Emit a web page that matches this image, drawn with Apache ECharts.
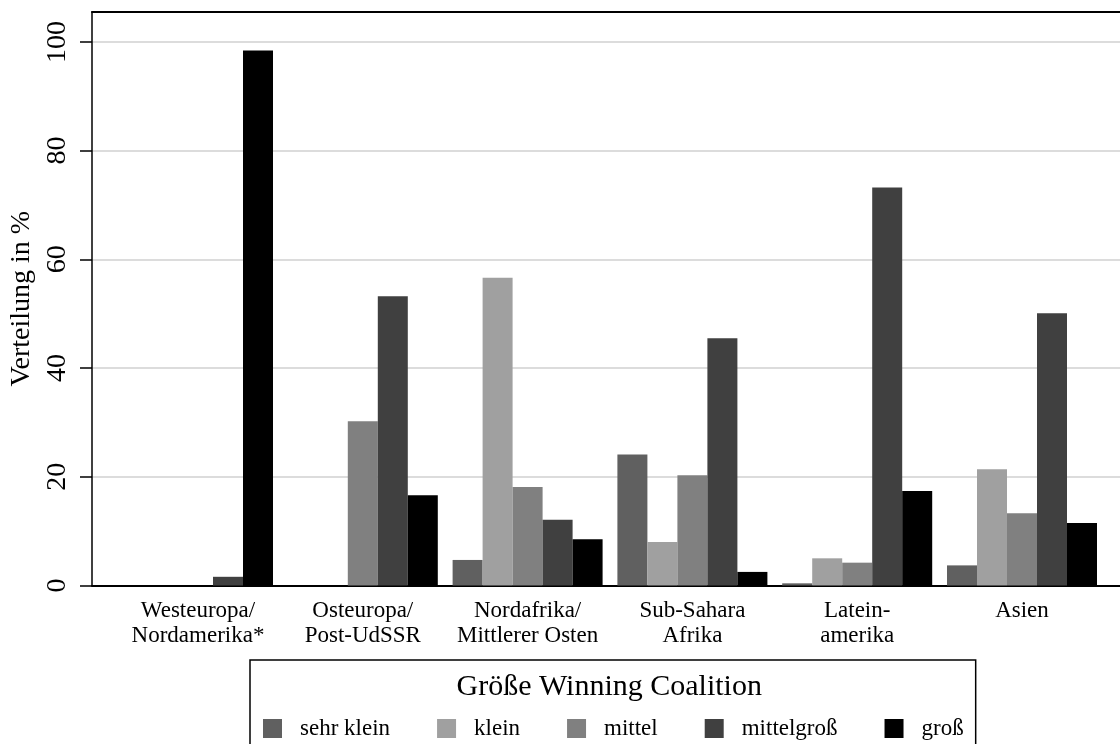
<!DOCTYPE html>
<html>
<head>
<meta charset="utf-8">
<script src="https://cdn.jsdelivr.net/npm/echarts@6/dist/echarts.min.js"></script>
<style>
html,body{margin:0;padding:0;background:#fff;}
#c{width:1120px;height:744px;}
</style>
</head>
<body>
<div id="c"></div>
<script>
const categories = ['Westeuropa/\nNordamerika*', 'Osteuropa/\nPost-UdSSR', 'Nordafrika/\nMittlerer Osten', 'Sub-Sahara\nAfrika', 'Latein-\namerika', 'Asien'];
const seriesNames = ['sehr klein', 'klein', 'mittel', 'mittelgroß', 'groß'];
const sehrKlein  = [0,    0,    4.7, 24.1, 0.4, 3.7];
const klein      = [0,    0,   56.6,  8.0, 5.0, 21.4];
const mittel     = [0,   30.2, 18.1, 20.3, 4.2, 13.3];
const mittelgross= [1.6, 53.2, 12.1, 45.5, 73.2, 50.1];
const gross      = [98.4, 16.6, 8.5,  2.5, 17.4, 11.5];
const yTicks = [0, 20, 40, 60, 80, 100];
const legendTitle = 'Größe Winning Coalition';
const yTitle = 'Verteilung in %';

const colors = ['#606060', '#a0a0a0', '#808080', '#404040', '#000000'];
const values = [sehrKlein, klein, mittel, mittelgross, gross];
const FONT = 'Liberation Serif';
const YMAX = 105.5;

const chart = echarts.init(document.getElementById('c'), null, {renderer: 'canvas'});
chart.setOption({
  backgroundColor: '#ffffff',
  animation: false,
  textStyle: {fontFamily: FONT, color: '#000'},
  grid: [
    {left: 92, right: 0, top: 12, bottom: 158.5},
    {left: 115.6, right: 15.6, top: 12, bottom: 158.5}
  ],
  xAxis: [
    {gridIndex: 0, type: 'category', data: [''], position: 'bottom',
     axisLine: {show: true, lineStyle: {color: '#000', width: 2}},
     axisTick: {show: false}, axisLabel: {show: false}, splitLine: {show: false}},
    {gridIndex: 0, type: 'category', data: [''], position: 'top',
     axisLine: {show: true, lineStyle: {color: '#000', width: 2}},
     axisTick: {show: false}, axisLabel: {show: false}, splitLine: {show: false}},
    {gridIndex: 1, type: 'category', data: categories,
     axisLine: {show: false}, axisTick: {show: false},
     axisLabel: {fontFamily: FONT, fontSize: 23, lineHeight: 25, color: '#000', margin: 13, interval: 0}}
  ],
  yAxis: [
    {gridIndex: 0, type: 'value', min: 0, max: YMAX,
     name: yTitle, nameLocation: 'middle', nameRotate: 90, nameGap: 52,
     nameTextStyle: {fontFamily: FONT, fontSize: 28, color: '#000'},
     axisLine: {show: true, lineStyle: {color: '#000', width: 1.5}},
     axisTick: {show: true, inside: false, length: 12, lineStyle: {color: '#000', width: 1.5}, customValues: yTicks},
     axisLabel: {fontFamily: FONT, fontSize: 28, color: '#000', rotate: 90, margin: 20, customValues: yTicks},
     splitLine: {show: true, lineStyle: {color: '#dcdcdc', width: 2}}},
    {gridIndex: 1, type: 'value', min: 0, max: YMAX, show: false, splitLine: {show: false}}
  ],
  legend: {
    data: seriesNames,
    selectedMode: false,
    left: 250, top: 660,
    orient: 'horizontal',
    icon: 'rect',
    itemWidth: 19, itemHeight: 19, itemGap: 47,
    padding: [57, 12, 30, 13],
    borderColor: '#000', borderWidth: 1.5,
    textStyle: {fontFamily: FONT, fontSize: 23, color: '#000', padding: [0, 0, 0, 13]}
  },
  graphic: [
    {type: 'text', left: 611.5 - 155, top: 672, z: 100,
     style: {text: legendTitle, font: '30px "Liberation Serif"', fill: '#000'}}
  ],
  series: seriesNames.map((n, i) => ({
    name: n, type: 'bar', xAxisIndex: 2, yAxisIndex: 1,
    data: values[i], barWidth: 30, barGap: '0%',
    itemStyle: {color: colors[i]}
  }))
});
</script>
</body>
</html>
